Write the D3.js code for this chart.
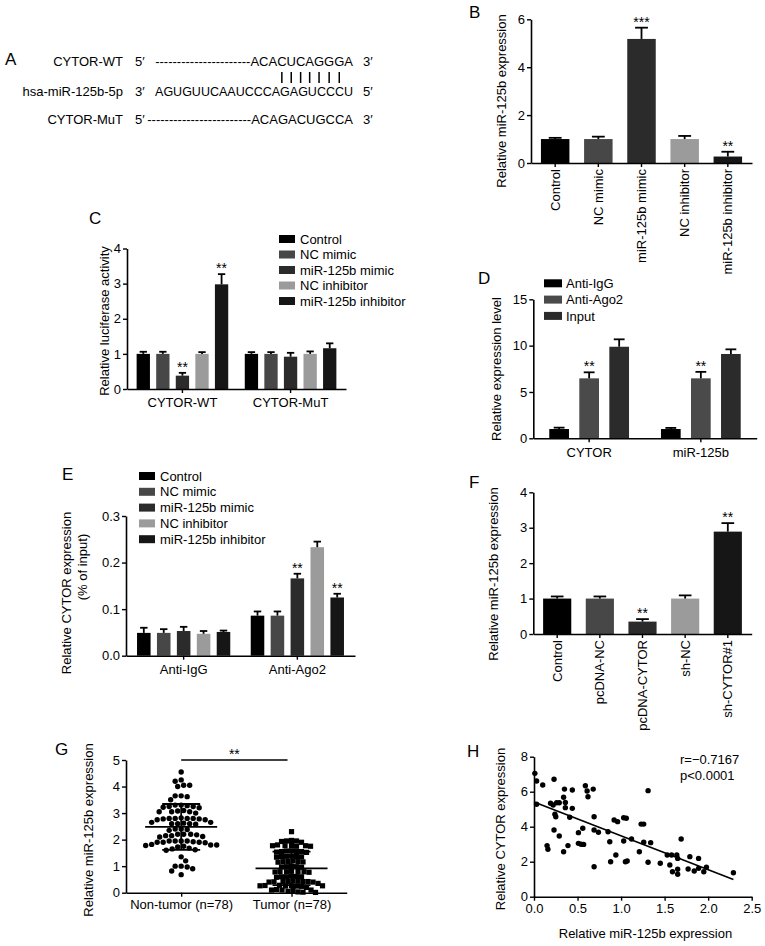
<!DOCTYPE html>
<html><head><meta charset="utf-8">
<script src="https://cdn.jsdelivr.net/npm/d3@7"></script>
<style>
body{margin:0;background:#fff;}
svg{display:block;font-family:"Liberation Sans",Arial,Helvetica,sans-serif;}
</style></head><body>
<svg id="fig" width="765" height="946"></svg>
<script>
// ---------------- DATA ----------------
// Panel A
const seqRows = [
  {label:"CYTOR-WT", left:"5\u2032", dashes:22, seq:"ACACUCAGGGA", right:"3\u2032"},
  {label:"hsa-miR-125b-5p", left:"3\u2032", dashes:0, seq:"AGUGUUCAAUCCCAGAGUCCCU", right:"5\u2032"},
  {label:"CYTOR-MuT", left:"5\u2032", dashes:24, seq:"ACAGACUGCCA", right:"3\u2032"}
];
const pairStart = 3, pairCount = 7; // paired nts in WT site

// Panel B
const bCategories = ["Control","NC mimic","miR-125b mimic","NC inhibitor","miR-125b inhibitor"];
const bValues = [1.0, 1.0, 5.18, 1.0, 0.27];
const bErrors = [0.05, 0.1, 0.47, 0.13, 0.2];
const bStars = ["", "", "***", "", "**"];
const bTicks = [0, 2, 4, 6];

// Panel C
const cGroups = ["CYTOR-WT","CYTOR-MuT"];
const cSeries = ["Control","NC mimic","miR-125b mimic","NC inhibitor","miR-125b inhibitor"];
const cValues = [[1.0, 1.0, 0.38, 1.0, 2.98],[1.0, 1.0, 0.92, 1.0, 1.16]];
const cErrors = [[0.06, 0.06, 0.08, 0.05, 0.29],[0.05, 0.05, 0.11, 0.07, 0.14]];
const cStars = [["","","**","","**"],["","","","",""]];
const cTicks = [0, 1, 2, 3, 4];

// Panel D
const dGroups = ["CYTOR","miR-125b"];
const dSeries = ["Anti-IgG","Anti-Ago2","Input"];
const dValues = [[1.0, 6.47, 9.88],[1.0, 6.47, 9.1]];
const dErrors = [[0.15, 0.65, 0.8],[0.12, 0.7, 0.5]];
const dStars = [["","**",""],["","**",""]];
const dTicks = [0, 5, 10, 15];

// Panel E
const eGroups = ["Anti-IgG","Anti-Ago2"];
const eSeries = ["Control","NC mimic","miR-125b mimic","NC inhibitor","miR-125b inhibitor"];
const eValues = [[0.049, 0.049, 0.053, 0.047, 0.051],[0.086, 0.086, 0.166, 0.233, 0.125]];
const eErrors = [[0.011, 0.008, 0.009, 0.006, 0.003],[0.009, 0.009, 0.01, 0.012, 0.008]];
const eStars = [["","","","",""],["","","**","","**"]];
const eTicks = [0, 0.1, 0.2, 0.3];

// Panel F
const fCategories = ["Control","pcDNA-NC","pcDNA-CYTOR","sh-NC","sh-CYTOR#1"];
const fValues = [1.0, 1.0, 0.35, 1.0, 2.89];
const fErrors = [0.06, 0.06, 0.07, 0.09, 0.24];
const fStars = ["", "", "**", "", "**"];
const fTicks = [0, 1, 2, 3, 4];

// Panel G
const gCategories = ["Non-tumor (n=78)","Tumor (n=78)"];
const gNonTumor = [4.55, 4.25,4.2, 4.05,4.05,4.0, 3.65,3.65,3.62,3.5, 3.3,3.25,3.25,3.22,3.3,3.2,3.28,
  3.05,3.1,3.05,3.0,3.08,3.05, 2.8,2.8,2.78,2.75,2.8,2.82,2.75,2.8,2.78, 2.6,2.65,2.6,2.62,2.65,2.6,2.58,
  2.4,2.38,2.35,2.4, 2.2,2.15,2.2,2.1,2.15,2.2,2.18,2.12, 1.95,1.95,1.9,1.95,1.9,1.95,1.9,1.92,1.88,
  1.8,1.78,1.75,1.8,1.82,1.72, 1.65,1.6,1.62,1.68, 1.35,1.2, 1.0,1.0,0.97, 0.9,0.82,0.68];
const gTumor = [2.3, 1.95,1.97,1.93,1.95,1.9, 1.77,1.75,1.78,1.77,1.8,1.75,1.77, 1.55,1.57,1.53,1.55,1.58,1.55,1.52,
  1.36,1.38,1.35,1.36,1.34,1.37, 1.17,1.15,1.18,1.17,1.2,1.16, 0.98,0.97,1.0,0.98,0.96,
  0.79,0.8,0.78,0.79,0.81,0.77,0.79, 0.6,0.62,0.6,0.58,0.6,0.61, 0.42,0.4,0.43,0.42,0.41,0.44,0.42,0.4,0.42,
  0.26,0.25,0.27,0.26,0.24,0.26,0.28,0.25, 0.1,0.12,0.1,0.08,0.1, 0.02,0.03,0.01, 0.35,0.2,0.05];
const gTicks = [0, 1, 2, 3, 4, 5];

// Panel H
const hX = [0.01,0.03,0.03,0.10,0.23,0.19,0.22,0.26,0.29,0.24,
  0.25,0.35,0.34,0.36,0.36,0.44,0.44,0.41,0.23,0.29,
  0.15,0.16,0.34,0.39,0.51,0.56,0.51,0.54,0.57,0.59,
  0.61,0.62,0.68,0.69,0.69,0.74,0.69,0.85,0.87,0.88,
  0.92,0.96,0.94,1.03,1.06,1.03,1.05,1.07,1.12,1.21,
  1.23,1.26,1.26,1.31,1.34,1.31,1.45,1.53,1.58,1.56,
  1.59,1.64,1.65,1.65,1.65,1.69,1.79,1.77,1.84,1.89,
  1.89,1.95,1.98,2.29];
const hY = [7.05,6.61,5.28,6.38,6.71,5.34,5.24,5.37,5.37,4.71,
  4.57,6.15,5.68,5.39,5.09,6.10,5.05,4.54,3.81,3.47,
  2.92,2.71,2.57,2.92,3.66,3.91,3.05,3.00,2.99,6.34,
  6.04,5.71,6.15,4.57,3.81,3.68,1.71,3.71,3.14,2.00,
  4.38,4.29,2.38,4.51,4.48,3.18,2.00,2.04,3.30,2.57,
  4.15,4.15,3.11,6.06,3.09,1.97,1.91,2.38,2.38,1.81,
  1.43,2.38,2.19,1.57,1.28,3.30,2.29,1.58,1.47,2.19,
  1.62,1.43,1.68,1.37];
const hXTicks = [0, 0.5, 1.0, 1.5, 2.0, 2.5];
const hYTicks = [0, 2, 4, 6, 8];
const hStats = ["r=\u22120.7167", "p<0.0001"];

// colours
const fiveColors = ["#000000","#474747","#2b2b2b","#9b9b9b","#161616"];
const threeColors = ["#000000","#4a4a4a","#2b2b2b"];

// ---------------- DRAWING ----------------
const FONT = '"Liberation Sans",Arial,Helvetica,sans-serif';
const svg = d3.select("#fig");
svg.append("rect").attr("width",765).attr("height",946).attr("fill","#fff");
const intFmt = d3.format("d");

function letter(t,x,y){ svg.append("text").attr("x",x).attr("y",y).attr("font-size",17).text(t); }
function ylabel(t,x,yc){
  svg.append("text").attr("transform",`translate(${x},${yc}) rotate(-90)`)
    .attr("text-anchor","middle").attr("font-size",13).text(t);
}
function styleAxis(g){
  g.attr("font-family",FONT).attr("font-size",13);
  g.select(".domain").attr("stroke","#000").attr("stroke-width",1.6);
  g.selectAll(".tick line").attr("stroke","#000").attr("stroke-width",1.4);
  g.selectAll(".tick text").attr("fill","#000");
}
function yAxis(y, x0, ticks, fmt){
  const ax = d3.axisLeft(y).tickValues(ticks).tickSize(4).tickPadding(2).tickSizeOuter(0)
    .tickFormat(fmt || intFmt);
  const g = svg.append("g").attr("transform",`translate(${x0},0)`).call(ax);
  styleAxis(g);
  return g;
}
function xAxis(x, y0, pad){
  const ax = d3.axisBottom(x).tickSize(4).tickPadding(pad).tickSizeOuter(0);
  const g = svg.append("g").attr("transform",`translate(0,${y0})`).call(ax);
  styleAxis(g);
  return g;
}
function errBar(cx, yv, ye, cap){
  svg.append("line").attr("x1",cx).attr("x2",cx).attr("y1",yv).attr("y2",ye)
    .attr("stroke","#000").attr("stroke-width",1.8);
  svg.append("line").attr("x1",cx-cap/2).attr("x2",cx+cap/2).attr("y1",ye).attr("y2",ye)
    .attr("stroke","#000").attr("stroke-width",1.8);
}
function star(cx, ye, s){
  if (!s) return;
  svg.append("text").attr("x",cx).attr("y",ye-1).attr("text-anchor","middle")
    .attr("font-size",14).text(s);
}
function legend(items, colors, x, y0, dy, w, h, tx){
  items.forEach((t,i)=>{
    svg.append("rect").attr("x",x).attr("y",y0+i*dy-h/2).attr("width",w).attr("height",h).attr("fill",colors[i]);
    svg.append("text").attr("x",tx).attr("y",y0+i*dy+4.6).attr("font-size",13).text(t);
  });
}

// simple bar chart (B, F)
function simpleBars(cats, vals, errs, stars, colors, xr, yr, dom, ticks){
  const x = d3.scaleBand().domain(cats).range(xr).paddingInner(0.34).paddingOuter(0.23);
  const y = d3.scaleLinear().domain(dom).range(yr);
  cats.forEach((c,i)=>{
    svg.append("rect").attr("x",x(c)).attr("y",y(vals[i])).attr("width",x.bandwidth())
      .attr("height",y(0)-y(vals[i])).attr("fill",colors[i]);
    const cx = x(c)+x.bandwidth()/2;
    errBar(cx, y(vals[i]), y(vals[i]+errs[i]), x.bandwidth()*0.45);
    star(cx, y(vals[i]+errs[i]), stars[i]);
  });
  yAxis(y, xr[0], ticks);
  const g = xAxis(x, y(0), 2);
  g.selectAll(".tick text").attr("transform","rotate(-90)").attr("text-anchor","end")
    .attr("x",-6).attr("y",0).attr("dy","0.35em");
  return {x,y};
}

// grouped bars (C, D, E)
function groupedBars(groups, series, vals, errs, stars, colors, xr, yr, dom, ticks, gp, innerP, fmt){
  const x0 = d3.scaleBand().domain(groups).range(xr).paddingInner(gp[0]).paddingOuter(gp[1]);
  const x1 = d3.scaleBand().domain(series).range([0,x0.bandwidth()]).paddingInner(innerP).paddingOuter(0);
  const y = d3.scaleLinear().domain(dom).range(yr);
  groups.forEach((gname,gi)=>{
    series.forEach((s,si)=>{
      const v = vals[gi][si], e = errs[gi][si];
      const bx = x0(gname)+x1(s);
      svg.append("rect").attr("x",bx).attr("y",y(v)).attr("width",x1.bandwidth())
        .attr("height",y(0)-y(v)).attr("fill",colors[si]);
      const cx = bx + x1.bandwidth()/2;
      errBar(cx, y(v), y(v+e), Math.max(7, x1.bandwidth()*0.55));
      star(cx, y(v+e), stars[gi][si]);
    });
  });
  yAxis(y, xr[0], ticks, fmt);
  xAxis(x0, y(0), 5);
  return {x0,x1,y};
}

// beeswarm placement for scatter dot plot
function swarm(vals, y, d){
  const placed = [];
  vals.map(v=>({v, py:y(v)})).sort((a,b)=>a.py-b.py).forEach(p=>{
    let found = null;
    for (let k=0; k<400 && found===null; k++){
      const offs = k===0 ? [0] : (k%2 ? [k*0.5, -k*0.5] : [-k*0.5, k*0.5]);
      for (const o of offs){
        if (placed.every(q=>Math.hypot(q.ox-o, q.py-p.py) >= d)){ found = o; break; }
      }
    }
    p.ox = found; placed.push(p);
  });
  return placed;
}

// ---- Panel A ----
letter("A", 5, 65);
const rowY = [66, 96, 123.5];
let wtText = null;
seqRows.forEach((r,i)=>{
  svg.append("text").attr("x",123).attr("y",rowY[i]).attr("text-anchor","end").attr("font-size",13).text(r.label);
  svg.append("text").attr("x",135).attr("y",rowY[i]).attr("font-size",13).text(r.left);
  const t = svg.append("text").attr("x",353).attr("y",rowY[i]).attr("text-anchor","end")
    .attr("font-size", r.dashes ? 13 : 12.5).text("-".repeat(r.dashes)+r.seq);
  if (i===0) wtText = {node:t.node(), off:r.dashes};
  svg.append("text").attr("x",363).attr("y",rowY[i]).attr("font-size",13).text(r.right);
});
for (let k=0;k<pairCount;k++){
  const ext = wtText.node.getExtentOfChar(wtText.off+pairStart+k);
  const cx = ext.x + ext.width/2;
  svg.append("line").attr("x1",cx).attr("x2",cx).attr("y1",72).attr("y2",83)
    .attr("stroke","#000").attr("stroke-width",1.5);
}

// ---- Panel B ----
letter("B", 469, 18);
ylabel("Relative miR-125b expression", 506, 101);
simpleBars(bCategories, bValues, bErrors, bStars, fiveColors, [531,752], [163,19.3], [0,6], bTicks);

// ---- Panel C ----
letter("C", 89, 224);
ylabel("Relative luciferase activity", 109, 321);
groupedBars(cGroups, cSeries, cValues, cErrors, cStars, fiveColors, [127,346], [389,248.5], [0,4], cTicks, [0.153,0.089], 0.32);
legend(cSeries, fiveColors, 279, 239, 15.5, 16, 8, 300);

// ---- Panel D ----
letter("D", 478, 284);
ylabel("Relative expression level", 501, 369);
groupedBars(dGroups, dSeries, dValues, dErrors, dStars, threeColors, [533.3,756.7], [438.3,299.3], [0,15], dTicks, [0.286,0.143], 0.344);
legend(dSeries, threeColors, 544, 283.3, 16.3, 18, 8, 566);

// ---- Panel E ----
letter("E", 62, 480);
ylabel("Relative CYTOR expression", 71, 593);
ylabel("(% of input)", 87, 567);
groupedBars(eGroups, eSeries, eValues, eErrors, eStars, fiveColors, [126,355], [655.7,516], [0,0.3], eTicks, [0.18,0.097], 0.32, d3.format(".1f"));
legend(eSeries, fiveColors, 139, 476, 15.8, 16, 8, 160);

// ---- Panel F ----
letter("F", 469, 488);
ylabel("Relative miR-125b expression", 498, 574);
simpleBars(fCategories, fValues, fErrors, fStars, fiveColors, [533.3,751.7], [634,492.3], [0,4], fTicks);

// ---- Panel G ----
letter("G", 55, 755);
ylabel("Relative miR-125b expression", 93, 830);
{
  const x = d3.scalePoint().domain(gCategories).range([126,346.7]).padding(0.5);
  const y = d3.scaleLinear().domain([0,5]).range([892.7,760]);
  const sets = [gNonTumor, gTumor];
  const spacing = [5.8, 5.0];
  sets.forEach((vals, si)=>{
    const cx = x(gCategories[si]);
    swarm(vals, y, spacing[si]).forEach(d=>{
      if (si===0){
        svg.append("circle").attr("cx",cx+d.ox).attr("cy",d.py).attr("r",2.7).attr("fill","#000");
      } else {
        svg.append("rect").attr("x",cx+d.ox-2.6).attr("y",d.py-2.6).attr("width",5.2).attr("height",5.2).attr("fill","#000");
      }
    });
    const m = d3.mean(vals), sd = d3.deviation(vals);
    svg.append("line").attr("x1",cx-36).attr("x2",cx+36).attr("y1",y(m)).attr("y2",y(m)).attr("stroke","#000").attr("stroke-width",1.8);
    svg.append("line").attr("x1",cx).attr("x2",cx).attr("y1",y(m-sd)).attr("y2",y(m+sd)).attr("stroke","#000").attr("stroke-width",1.8);
    [m-sd, m+sd].forEach(v=>svg.append("line").attr("x1",cx-19).attr("x2",cx+19).attr("y1",y(v)).attr("y2",y(v)).attr("stroke","#000").attr("stroke-width",1.8));
  });
  yAxis(y, 126, gTicks);
  xAxis(x, 892.7, 3);
  const x1 = x(gCategories[0]), x2 = x(gCategories[1]) - 4;
  svg.append("line").attr("x1",x1).attr("x2",x2).attr("y1",y(5)).attr("y2",y(5)).attr("stroke","#000").attr("stroke-width",1.5);
  svg.append("text").attr("x",(x1+x2)/2).attr("y",y(5)-1).attr("text-anchor","middle").attr("font-size",14).text("**");
}

// ---- Panel H ----
letter("H", 467, 756.7);
ylabel("Relative CYTOR expression", 505, 829);
{
  const x = d3.scaleLinear().domain([0,2.5]).range([534,751.7]);
  const y = d3.scaleLinear().domain([0,8]).range([896.7,756.7]);
  hX.forEach((v,i)=>{
    svg.append("circle").attr("cx",x(v)).attr("cy",y(hY[i])).attr("r",2.7).attr("fill","#000");
  });
  const mx = d3.mean(hX), my = d3.mean(hY);
  let sxy=0, sxx=0;
  hX.forEach((v,i)=>{ sxy += (v-mx)*(hY[i]-my); sxx += (v-mx)*(v-mx); });
  const slope = sxy/sxx, icpt = my - slope*mx;
  const xmax = d3.max(hX);
  svg.append("line").attr("x1",x(0)).attr("y1",y(icpt)).attr("x2",x(xmax)).attr("y2",y(icpt+slope*xmax))
    .attr("stroke","#000").attr("stroke-width",1.6);
  yAxis(y, 534, hYTicks);
  const g = svg.append("g").attr("transform","translate(0,896.7)")
    .call(d3.axisBottom(x).tickValues(hXTicks).tickFormat(d3.format(".1f")).tickSize(4).tickPadding(3).tickSizeOuter(0));
  styleAxis(g);
  svg.append("text").attr("x",x(1.28)).attr("y",938).attr("text-anchor","middle").attr("font-size",13).text("Relative miR-125b expression");
  hStats.forEach((t,i)=>svg.append("text").attr("x",680).attr("y",764+i*16).attr("font-size",13).text(t));
}
</script>
</body></html>
